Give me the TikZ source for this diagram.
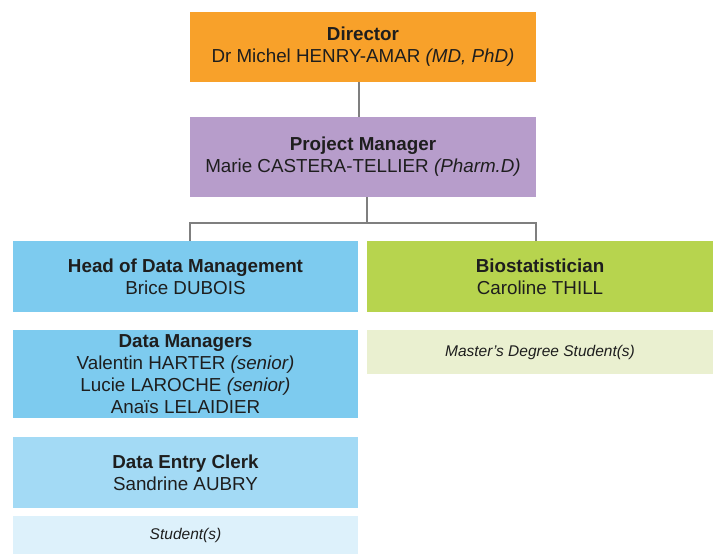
\documentclass[tikz,border=0pt]{standalone}
\usepackage{fontspec}
\setmainfont{Liberation Sans}
\usetikzlibrary{calc}

\definecolor{dirorange}{HTML}{F8A12A}
\definecolor{pmpurple}{HTML}{B79DCB}
\definecolor{dmblue}{HTML}{7DCBEF}
\definecolor{clerkblue}{HTML}{A3DAF5}
\definecolor{stublue}{HTML}{DDF1FB}
\definecolor{biogreen}{HTML}{B7D44E}
\definecolor{mscgreen}{HTML}{EAF0D0}
\definecolor{linkgray}{HTML}{7F7F7F}
\definecolor{txtdark}{HTML}{1E1E1E}

\begin{document}
\begin{tikzpicture}[x=1pt,y=-1pt,
    box/.style={inner sep=0pt,align=center,text=txtdark,
                font=\fontsize{18.8}{22}\selectfont},
    smallbox/.style={box,font=\fontsize{15.5}{18}\selectfont\itshape},
    link/.style={draw=linkgray,line width=1.2pt}]
            \useasboundingbox (0,0) rectangle (717,554);
            \node[box,fill=dirorange,minimum width=346pt,minimum height=70pt] (director) at (363,47)
                {\textbf{Director}\\Dr Michel HENRY-AMAR \textit{(MD, PhD)}};
            \node[box,fill=pmpurple,minimum width=346pt,minimum height=80pt] (pm) at (363,157)
                {\textbf{Project Manager}\\Marie CASTERA-TELLIER \textit{(Pharm.D)}};

            \node[box,fill=dmblue,minimum width=345pt,minimum height=71pt] (hdm) at (185.5,276.5)
                {\textbf{Head of Data Management}\\Brice DUBOIS};
            \node[box,fill=dmblue,minimum width=345pt,minimum height=88pt] (dm) at (185.5,374)
                {\textbf{Data Managers}\\Valentin HARTER \textit{(senior)}\\Lucie LAROCHE \textit{(senior)}\\Anaïs LELAIDIER};
            \node[box,fill=clerkblue,minimum width=345pt,minimum height=71pt] (clerk) at (185.5,472.5)
                {\textbf{Data Entry Clerk}\\Sandrine AUBRY};
            \node[smallbox,fill=stublue,minimum width=345pt,minimum height=38pt] (stu) at (185.5,535)
                {Student(s)};

            \node[box,fill=biogreen,minimum width=346pt,minimum height=71pt] (bio) at (540,276.5)
                {\textbf{Biostatistician}\\Caroline THILL};
            \node[smallbox,fill=mscgreen,minimum width=346pt,minimum height=44pt] (msc) at (540,352)
                {Master's Degree Student(s)};

            \coordinate (split) at (367,223);
            \draw[link] ($(director.south)+(-4,0)$) -- ($(pm.north)+(-4,0)$);
            \draw[link] ($(pm.south)+(4,0)$) -- (split);
            \draw[link] ($(hdm.north)+(4.5,0)$) |- (split) -| ($(bio.north)+(-4,0)$);
          \end{tikzpicture}
\end{document}
